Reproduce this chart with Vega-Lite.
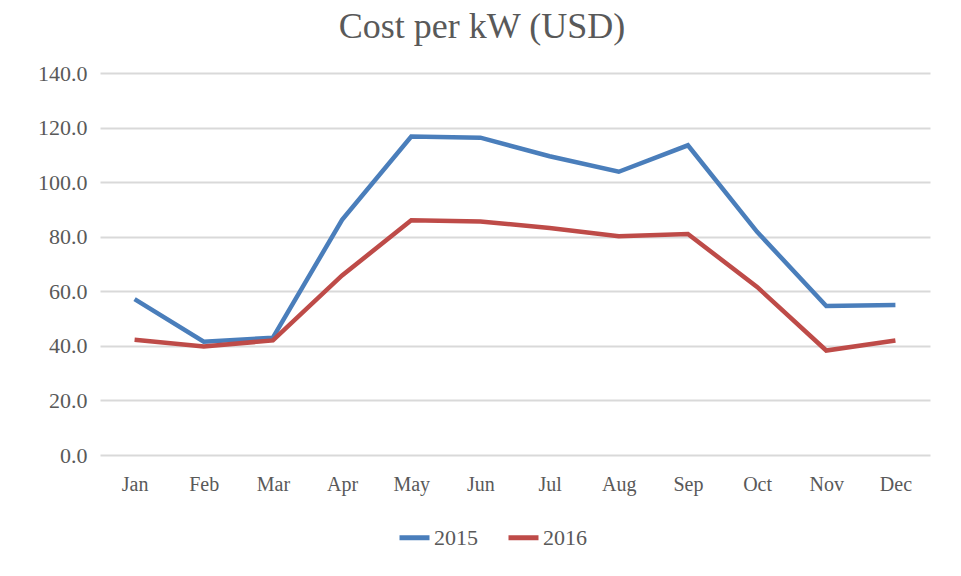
{
  "$schema": "https://vega.github.io/schema/vega-lite/v6.json",
  "autosize": "none",
  "width": 830,
  "height": 382,
  "padding": {"left": 100, "top": 73, "right": 31, "bottom": 121},
  "background": "white",
  "title": {
    "text": "Cost per kW (USD)",
    "font": "Liberation Serif",
    "fontSize": 36,
    "fontWeight": "normal",
    "color": "#595959",
    "anchor": "middle",
    "dx": -33,
    "offset": 16
  },
  "data": {
    "values": [
      {"month": "Jan", "year": "2015", "value": 57.1},
      {"month": "Feb", "year": "2015", "value": 41.5},
      {"month": "Mar", "year": "2015", "value": 43.0},
      {"month": "Apr", "year": "2015", "value": 86.2},
      {"month": "May", "year": "2015", "value": 116.7},
      {"month": "Jun", "year": "2015", "value": 116.3},
      {"month": "Jul", "year": "2015", "value": 109.5},
      {"month": "Aug", "year": "2015", "value": 103.8},
      {"month": "Sep", "year": "2015", "value": 113.5},
      {"month": "Oct", "year": "2015", "value": 81.8},
      {"month": "Nov", "year": "2015", "value": 54.6},
      {"month": "Dec", "year": "2015", "value": 55.0},
      {"month": "Jan", "year": "2016", "value": 42.2},
      {"month": "Feb", "year": "2016", "value": 39.8},
      {"month": "Mar", "year": "2016", "value": 42.0},
      {"month": "Apr", "year": "2016", "value": 65.8},
      {"month": "May", "year": "2016", "value": 86.0},
      {"month": "Jun", "year": "2016", "value": 85.6},
      {"month": "Jul", "year": "2016", "value": 83.2},
      {"month": "Aug", "year": "2016", "value": 80.2},
      {"month": "Sep", "year": "2016", "value": 81.0},
      {"month": "Oct", "year": "2016", "value": 61.6},
      {"month": "Nov", "year": "2016", "value": 38.3},
      {"month": "Dec", "year": "2016", "value": 42.0}
    ]
  },
  "mark": {"type": "line", "strokeWidth": 4.5, "strokeCap": "butt", "strokeJoin": "miter"},
  "encoding": {
    "x": {
      "field": "month",
      "type": "ordinal",
      "sort": ["Jan","Feb","Mar","Apr","May","Jun","Jul","Aug","Sep","Oct","Nov","Dec"],
      "scale": {"type": "point", "padding": 0.5},
      "axis": {
        "title": null,
        "labelAngle": 0,
        "ticks": false,
        "domain": false,
        "grid": false,
        "labelFont": "Liberation Serif",
        "labelFontSize": 20,
        "labelColor": "#595959",
        "labelPadding": 19
      }
    },
    "y": {
      "field": "value",
      "type": "quantitative",
      "scale": {"domain": [0, 140], "nice": false},
      "axis": {
        "title": null,
        "values": [0, 20, 40, 60, 80, 100, 120, 140],
        "format": ".1f",
        "ticks": false,
        "domain": false,
        "grid": true,
        "gridColor": "#D9D9D9",
        "gridWidth": 2,
        "labelFont": "Liberation Serif",
        "labelFontSize": 22,
        "labelColor": "#595959",
        "labelPadding": 13
      }
    },
    "color": {
      "field": "year",
      "type": "nominal",
      "scale": {"domain": ["2015", "2016"], "range": ["#4A7EBB", "#BE4B48"]},
      "legend": {
        "title": null,
        "orient": "none",
        "direction": "horizontal",
        "legendX": 297,
        "legendY": 447,
        "symbolType": "stroke",
        "symbolSize": 900,
        "symbolStrokeWidth": 5,
        "labelFont": "Liberation Serif",
        "labelFontSize": 22,
        "labelColor": "#595959",
        "labelOffset": 2,
        "columnPadding": 20
      }
    }
  },
  "config": {"view": {"stroke": null}}
}
